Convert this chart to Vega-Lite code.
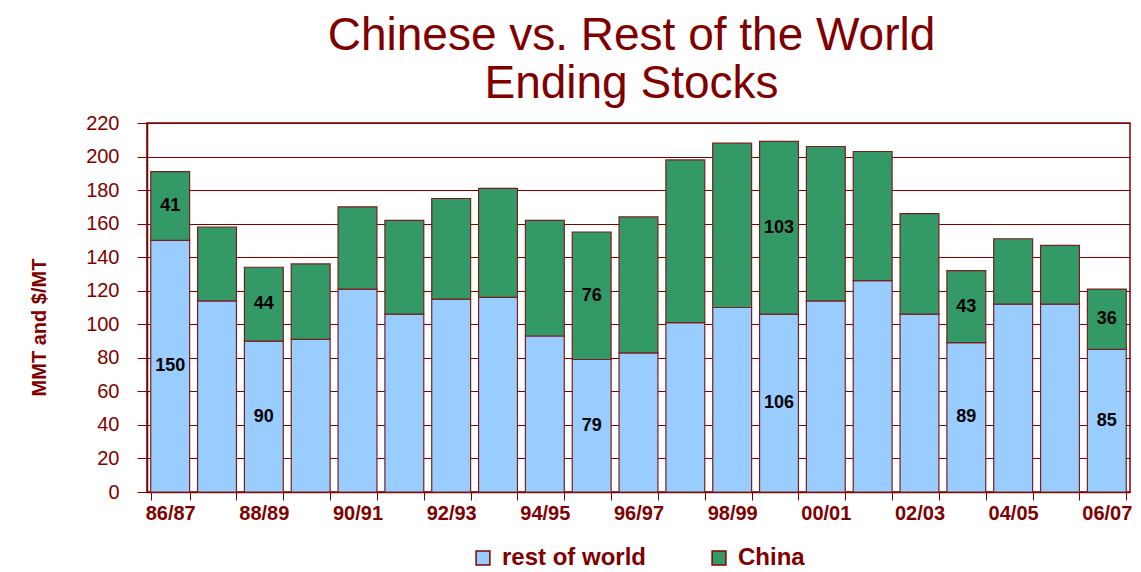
{
  "$schema": "https://vega.github.io/schema/vega-lite/v6.json",
  "autosize": "none",
  "width": 983,
  "height": 369,
  "padding": {"left": 147, "top": 123, "right": 11, "bottom": 80},
  "background": "white",
  "title": {
    "text": ["Chinese vs. Rest of the World", "Ending Stocks"],
    "font": "Liberation Sans",
    "fontSize": 46,
    "fontWeight": "normal",
    "color": "#800000",
    "anchor": "middle",
    "lineHeight": 48,
    "offset": 5,
    "dx": -7
  },
  "data": {
    "values": [
      {"season": "86/87", "series": "rest of world", "value": 150},
      {"season": "86/87", "series": "China", "value": 41},
      {"season": "87/88", "series": "rest of world", "value": 114},
      {"season": "87/88", "series": "China", "value": 44},
      {"season": "88/89", "series": "rest of world", "value": 90},
      {"season": "88/89", "series": "China", "value": 44},
      {"season": "89/90", "series": "rest of world", "value": 91},
      {"season": "89/90", "series": "China", "value": 45},
      {"season": "90/91", "series": "rest of world", "value": 121},
      {"season": "90/91", "series": "China", "value": 49},
      {"season": "91/92", "series": "rest of world", "value": 106},
      {"season": "91/92", "series": "China", "value": 56},
      {"season": "92/93", "series": "rest of world", "value": 115},
      {"season": "92/93", "series": "China", "value": 60},
      {"season": "93/94", "series": "rest of world", "value": 116},
      {"season": "93/94", "series": "China", "value": 65},
      {"season": "94/95", "series": "rest of world", "value": 93},
      {"season": "94/95", "series": "China", "value": 69},
      {"season": "95/96", "series": "rest of world", "value": 79},
      {"season": "95/96", "series": "China", "value": 76},
      {"season": "96/97", "series": "rest of world", "value": 83},
      {"season": "96/97", "series": "China", "value": 81},
      {"season": "97/98", "series": "rest of world", "value": 101},
      {"season": "97/98", "series": "China", "value": 97},
      {"season": "98/99", "series": "rest of world", "value": 110},
      {"season": "98/99", "series": "China", "value": 98},
      {"season": "99/00", "series": "rest of world", "value": 106},
      {"season": "99/00", "series": "China", "value": 103},
      {"season": "00/01", "series": "rest of world", "value": 114},
      {"season": "00/01", "series": "China", "value": 92},
      {"season": "01/02", "series": "rest of world", "value": 126},
      {"season": "01/02", "series": "China", "value": 77},
      {"season": "02/03", "series": "rest of world", "value": 106},
      {"season": "02/03", "series": "China", "value": 60},
      {"season": "03/04", "series": "rest of world", "value": 89},
      {"season": "03/04", "series": "China", "value": 43},
      {"season": "04/05", "series": "rest of world", "value": 112},
      {"season": "04/05", "series": "China", "value": 39},
      {"season": "05/06", "series": "rest of world", "value": 112},
      {"season": "05/06", "series": "China", "value": 35},
      {"season": "06/07", "series": "rest of world", "value": 85},
      {"season": "06/07", "series": "China", "value": 36}
    ]
  },
  "transform": [
    {"stack": "value", "groupby": ["season"], "sort": [{"field": "series", "order": "descending"}], "as": ["v0", "v1"]}
  ],
  "encoding": {
    "x": {
      "field": "season",
      "type": "nominal",
      "sort": null,
      "scale": {"paddingInner": 0.17, "paddingOuter": 0.08},
      "axis": {
        "title": null,
        "labelAngle": 0,
        "labelOverlap": false,
        "labelExpr": "indexof(['86/87','88/89','90/91','92/93','94/95','96/97','98/99','00/01','02/03','04/05','06/07'], datum.value) >= 0 ? datum.value : ''",
        "labelFont": "Liberation Sans",
        "labelFontSize": 20,
        "labelFontWeight": "bold",
        "labelColor": "#800000",
        "labelPadding": 3,
        "tickBand": "extent",
        "tickColor": "#800000",
        "tickSize": 8,
        "domainColor": "#800000",
        "domainWidth": 1.5,
        "grid": false
      }
    }
  },
  "layer": [
    {
      "mark": {"type": "bar", "stroke": "#7a1f1f", "strokeWidth": 1.2},
      "encoding": {
        "y": {
          "field": "v0",
          "type": "quantitative",
          "scale": {"domain": [0, 220], "nice": false},
          "axis": {
            "title": "MMT and $/MT",
            "titleFont": "Liberation Sans",
            "titleFontSize": 20,
            "titleFontWeight": "bold",
            "titleColor": "#800000",
            "titlePadding": 36,
            "titleY": 204,
            "values": [0, 20, 40, 60, 80, 100, 120, 140, 160, 180, 200, 220],
            "labelOverlap": false,
            "labelFont": "Liberation Sans",
            "labelFontSize": 20,
            "labelColor": "#800000",
            "labelPadding": 18,
            "tickColor": "#800000",
            "tickSize": 10,
            "domainColor": "#800000",
            "domainWidth": 1.5,
            "grid": true,
            "gridColor": "#800000",
            "gridOpacity": 1,
            "gridWidth": 1
          }
        },
        "y2": {"field": "v1"},
        "color": {
          "field": "series",
          "type": "nominal",
          "scale": {"domain": ["rest of world", "China"], "range": ["#99CCFF", "#339966"]},
          "legend": {
            "title": null,
            "orient": "none",
            "direction": "horizontal",
            "legendX": 324,
            "legendY": 423,
            "symbolType": "square",
            "symbolSize": 190,
            "symbolStrokeColor": "#800000",
            "symbolStrokeWidth": 1.5,
            "labelFont": "Liberation Sans",
            "labelFontSize": 24,
            "labelFontWeight": "bold",
            "labelColor": "#800000",
            "labelOffset": 7,
            "columnPadding": 60
          }
        }
      }
    },
    {
      "transform": [
        {"filter": {"field": "season", "oneOf": ["86/87", "88/89", "95/96", "99/00", "03/04", "06/07"]}},
        {"fold": ["v0", "v1"], "as": ["edge_name", "edge"]}
      ],
      "mark": {"type": "text", "font": "Liberation Sans", "fontSize": 18, "fontWeight": "bold", "color": "#000000", "align": "center", "baseline": "middle"},
      "encoding": {
        "y": {
          "aggregate": "mean",
          "field": "edge",
          "type": "quantitative",
          "axis": {
            "title": "MMT and $/MT",
            "values": [0, 20, 40, 60, 80, 100, 120, 140, 160, 180, 200, 220],
            "labelOverlap": false
          }
        },
        "detail": {"field": "series", "type": "nominal"},
        "text": {"field": "value", "type": "quantitative"}
      }
    }
  ],
  "config": {
    "view": {"stroke": "#800000", "strokeWidth": 1.5}
  }
}
